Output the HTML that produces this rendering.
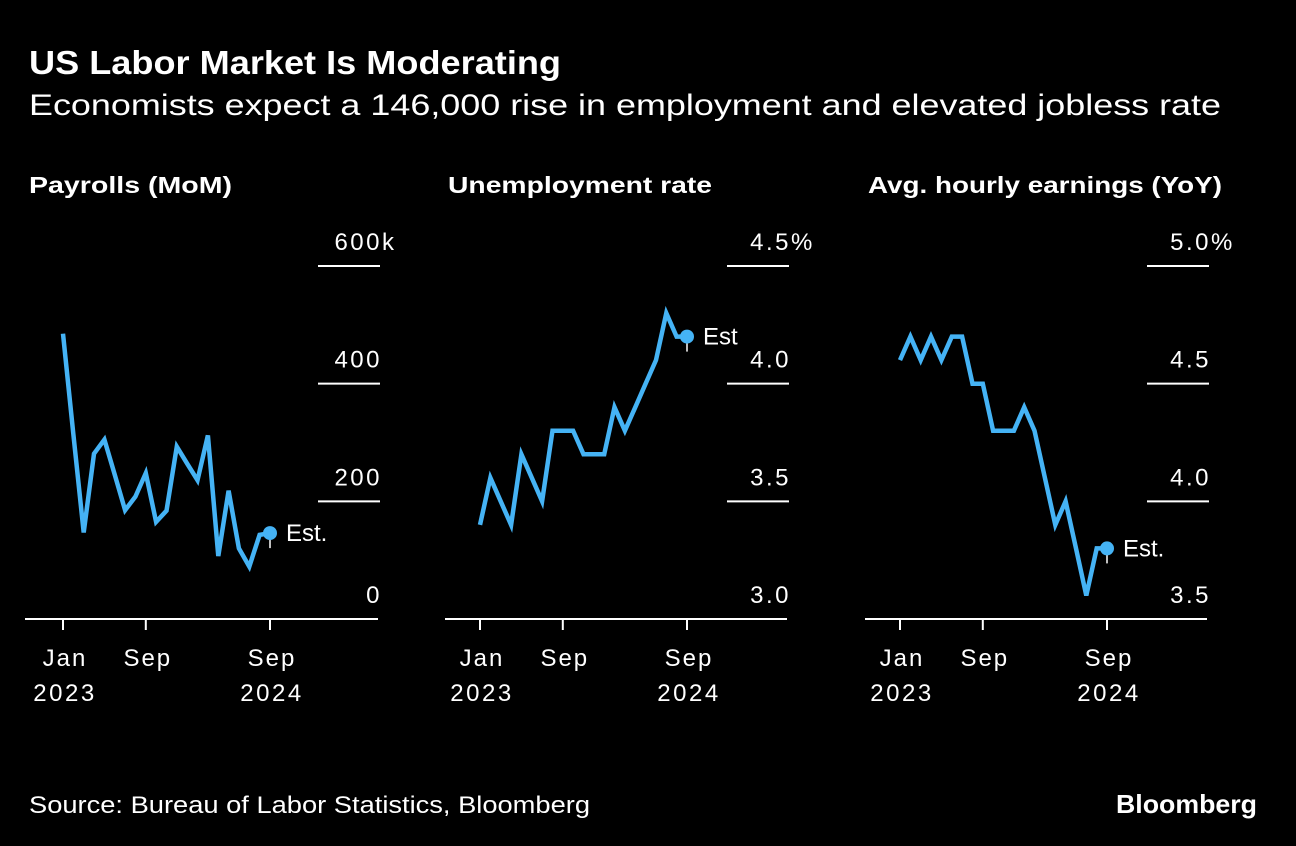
<!DOCTYPE html>
<html><head><meta charset="utf-8"><style>
html,body{margin:0;padding:0;background:#000;}
svg{display:block;font-family:"Liberation Sans",Arial,sans-serif;}
</style></head><body>
<svg id="chart" width="1296" height="846" viewBox="0 0 1296 846">
<rect width="1296" height="846" fill="#000"/>
<text x="29" y="74" fill="#fff" font-size="33" font-weight="bold" textLength="532" lengthAdjust="spacingAndGlyphs">US Labor Market Is Moderating</text>
<text x="29" y="115" fill="#fff" font-size="30" textLength="1192" lengthAdjust="spacingAndGlyphs">Economists expect a 146,000 rise in employment and elevated jobless rate</text>
<text x="29" y="813" fill="#fff" font-size="24" textLength="561" lengthAdjust="spacingAndGlyphs">Source: Bureau of Labor Statistics, Bloomberg</text>
<text x="1116" y="813" fill="#fff" font-size="26" font-weight="bold" textLength="141" lengthAdjust="spacingAndGlyphs">Bloomberg</text>
<g id="panels"></g>
</svg>
<script>
const months = ["Jan 2023","Feb","Mar","Apr","May","Jun","Jul","Aug","Sep","Oct","Nov","Dec","Jan 2024","Feb","Mar","Apr","May","Jun","Jul","Aug","Sep"];
const payrolls = [485,315,147,281,305,245,185,208,248,165,184,293,264,236,312,107,218,120,89,143,146];
const unemployment = [3.4,3.6,3.5,3.4,3.7,3.6,3.5,3.8,3.8,3.8,3.7,3.7,3.7,3.9,3.8,3.9,4.0,4.1,4.3,4.2,4.2];
const earnings = [4.6,4.7,4.6,4.7,4.6,4.7,4.7,4.5,4.5,4.3,4.3,4.3,4.4,4.3,4.1,3.9,4.0,3.8,3.6,3.8,3.8];
const payrollTicks = [0,200,400,600];
const unempTicks = [3.0,3.5,4.0,4.5];
const earnTicks = [3.5,4.0,4.5,5.0];
const xTickIdx = [0,8,20];
const xTickTop = ["Jan","Sep","Sep"];
const xTickBottom = ["2023","","2024"];

const NS="http://www.w3.org/2000/svg";
const root=document.getElementById('panels');
function mk(tag,attrs,parent,text){const e=document.createElementNS(NS,tag);for(const k in attrs)e.setAttribute(k,attrs[k]);if(text!==undefined)e.textContent=text;(parent||root).appendChild(e);return e;}

const panels=[
 {key:"payrolls",title:"Payrolls (MoM)",tl:203,data:payrolls,ticks:payrollTicks,min:0,max:600,unit:"k",fmt:v=>String(v),x0:25,x1:378,jan:63,est:"Est.",titleX:29},
 {key:"unemployment",title:"Unemployment rate",tl:264,data:unemployment,ticks:unempTicks,min:3.0,max:4.5,unit:"%",fmt:v=>v.toFixed(1),x0:445,x1:787,jan:480,est:"Est",titleX:448},
 {key:"earnings",title:"Avg. hourly earnings (YoY)",tl:354,data:earnings,ticks:earnTicks,min:3.5,max:5.0,unit:"%",fmt:v=>v.toFixed(1),x0:865,x1:1207,jan:900,est:"Est.",titleX:868}
];
const yTop=266,yBot=619,step=10.35;
panels.forEach(p=>{
  const g=mk('g',{});
  
  
  const xs=i=>p.jan+i*step;
  const ys=v=>yBot-(v-p.min)/(p.max-p.min)*(yBot-yTop);
  const t=mk('text',{x:p.titleX,y:193,fill:'#fff','font-size':23,'font-weight':'bold',textLength:p.tl,lengthAdjust:'spacingAndGlyphs'},g,p.title);
  
  
  const gx=p.x1+2;
  p.ticks.forEach((v,i)=>{
    const y=ys(v);
    if(i>0){const l=mk('line',{x1:gx-62,x2:gx,y1:y,y2:y,stroke:'#fff','stroke-width':2},g);
      
      }
    const lb=mk('text',{x:gx+2,y:y-16,fill:'#fff','font-size':24,'letter-spacing':2.5,'text-anchor':'end'},g,p.fmt(v));
    
    
    if(i===p.ticks.length-1){const u=mk('text',{x:gx+2,y:y-16,fill:'#fff','font-size':24},g,p.unit);
      
      }
  });
  const ax=mk('line',{x1:p.x0,x2:p.x1,y1:yBot,y2:yBot,stroke:'#fff','stroke-width':2},g);
  
  
  xTickIdx.forEach((idx,k)=>{
    const x=xs(idx);
    const tk=mk('line',{x1:x,x2:x,y1:yBot,y2:yBot+11,stroke:'#fff','stroke-width':2},g);
    
    
    const a=mk('text',{x:x+2,y:666,fill:'#fff','font-size':24,'letter-spacing':2,'text-anchor':'middle'},g,xTickTop[k]);
    
    
    if(xTickBottom[k]){const b=mk('text',{x:x+2,y:701,fill:'#fff','font-size':24,'letter-spacing':2.5,'text-anchor':'middle'},g,xTickBottom[k]);
      
      }
  });
  const pts=p.data.map((v,i)=>xs(i).toFixed(1)+','+ys(v).toFixed(1)).join(' ');
  const line=mk('polyline',{points:pts,fill:'none',stroke:'#45b3f5','stroke-width':4.5,'stroke-linejoin':'miter','stroke-miterlimit':4},g);
  
  
  const n=p.data.length-1, ex=xs(n), ey=ys(p.data[n]);
  const st=mk('line',{x1:ex,x2:ex,y1:ey,y2:ey+15,stroke:'#fff','stroke-width':1.5},g);
  
  
  const c=mk('circle',{cx:ex,cy:ey,r:7,fill:'#45b3f5'},g);
  
  
  const et=mk('text',{x:ex+16,y:ey+8,fill:'#fff','font-size':24},g,p.est);
  
  
});
</script>
</body></html>
